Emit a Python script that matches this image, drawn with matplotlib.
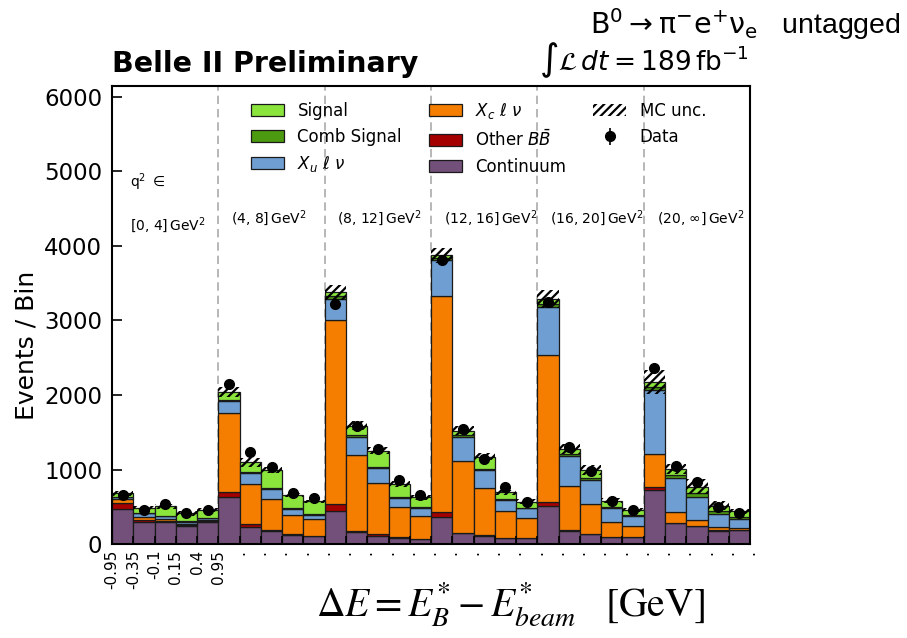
import numpy as np
import matplotlib
matplotlib.use("Agg")
import matplotlib.pyplot as plt

# delta E bin edges (shown only for the first q2 bin)
de_edges = ["-0.95", "-0.35", "-0.1", "0.15", "0.4", "0.95"]
q2_labels = [r"[0, 4]$\,$GeV$^2$", r"(4, 8]$\,$GeV$^2$", r"(8, 12]$\,$GeV$^2$",
             r"(12, 16]$\,$GeV$^2$", r"(16, 20]$\,$GeV$^2$", r"(20, $\infty$]$\,$GeV$^2$"]

# stacked components, 6 q2 bins x 5 delta E bins
continuum = [472, 293, 293, 244, 293,
             628, 235, 172, 123, 105,
             450, 159, 114, 83, 70,
             369, 145, 114, 78, 83,
             507, 172, 137, 91, 91,
             727, 284, 239, 181, 190]
other_bb = [81, 36, 22, 10, 12,
            67, 36, 23, 8, 5,
            90, 22, 23, 18, 6,
            58, 6, 5, 3, 3,
            54, 18, 5, 3, 3,
            35, 5, 3, 3, 2]
xc_lnu = [54, 31, 23, 17, 22,
          1061, 537, 412, 265, 228,
          2469, 1020, 684, 402, 307,
          2895, 970, 635, 369, 260,
          1969, 586, 398, 208, 145,
          449, 138, 87, 42, 25]
xu_lnu = [21, 54, 34, 31, 20,
          161, 148, 134, 76, 58,
          282, 242, 202, 117, 103,
          483, 322, 242, 143, 135,
          649, 412, 326, 184, 134,
          859, 462, 309, 179, 121]
comb_signal = [10, 10, 10, 10, 10,
               20, 10, 10, 10, 10,
               30, 15, 12, 10, 10,
               30, 15, 12, 10, 10,
               40, 20, 20, 15, 15,
               40, 44, 44, 35, 31]
signal = [44, 62, 125, 102, 102,
          101, 132, 245, 178, 168,
          59, 133, 220, 178, 132,
          37, 65, 166, 92, 79,
          63, 70, 110, 83, 71,
          62, 76, 90, 77, 71]
mc_unc = [30, 30, 30, 30, 30,
          70, 60, 40, 30, 25,
          100, 55, 45, 35, 30,
          100, 65, 45, 35, 30,
          120, 65, 70, 35, 30,
          160, 70, 100, 60, 35]
data = [660, 459, 540, 420, 462,
        2141, 1232, 1031, 682, 620,
        3215, 1591, 1278, 862, 664,
        3805, 1546, 1143, 772, 570,
        3246, 1299, 987, 584, 460,
        2365, 1054, 830, 503, 413]

components = [
    ("Continuum", continuum, "#735079"),
    (r"Other $B\bar{B}$", other_bb, "#a50000"),
    (r"$X_c\ \ell\ \nu$", xc_lnu, "#f57d00"),
    (r"$X_u\ \ell\ \nu$", xu_lnu, "#6f9fd2"),
    ("Comb Signal", comb_signal, "#4c9a10"),
    ("Signal", signal, "#8ae43c"),
]

n_bins = len(data)
x = np.arange(n_bins)
plt.rcParams["hatch.linewidth"] = 1.6

fig = plt.figure(figsize=(9.07, 6.38), dpi=100)
ax = fig.add_axes([0.1235, 0.147, 0.7035, 0.718])

bottom = np.zeros(n_bins)
patches = {}
for name, vals, col in components:
    vals = np.array(vals, dtype=float)
    bars = ax.bar(x, vals, bottom=bottom, width=1.0, align="edge", color=col,
                  edgecolor="#1a1a1a", linewidth=0.9, label=name)
    patches[name] = bars
    bottom += vals
total = bottom

unc = np.array(mc_unc, dtype=float)
unc_bars = ax.bar(x, 2 * unc, bottom=total - unc, width=1.0, align="edge",
                  fill=False, hatch="////", linewidth=0, edgecolor="black",
                  label="MC unc.")

d = np.array(data, dtype=float)
data_eb = ax.errorbar(x + 0.5, d, yerr=np.sqrt(d), fmt="o", color="black", ms=7,
                      elinewidth=1.2, capsize=0, zorder=5, label="Data")

# q2 bin separators and labels
for g in range(1, 6):
    ax.axvline(5 * g, color="#aaaaaa", ls=(0, (5, 3)), lw=1.2, zorder=0.5)
ax.text(0.85, 4850, r"q$^2$ $\in$", fontsize=10, va="center", ha="left")
ax.text(0.85, 4280, q2_labels[0], fontsize=10, va="center", ha="left")
for g in range(1, 6):
    ax.text(5 * g + 0.6, 4370, q2_labels[g], fontsize=10, va="center", ha="left")

ax.set_xlim(0, n_bins)
ax.set_ylim(0, 6140)
ax.set_xticks(np.arange(n_bins + 1))
ax.set_xticklabels(de_edges + ["."] * (n_bins + 1 - len(de_edges)), rotation=90,
                   fontsize=11)
ax.set_yticks(np.arange(0, 6001, 1000))
ax.tick_params(axis="y", direction="in", length=7, width=1.2, labelsize=16.5, pad=7)
ax.tick_params(axis="x", direction="in", length=6, width=1.2, pad=4)
for sp in ax.spines.values():
    sp.set_linewidth(1.5)

ax.set_ylabel("Events / Bin", fontsize=18)
ax.yaxis.set_label_coords(-0.115, 0.434)
plt.rcParams["mathtext.fontset"] = "stix"
fig.text(0.563, 0.052, r"$\Delta E = E^{*}_{B} - E^{*}_{beam}\quad$[GeV]",
         fontsize=28.5, ha="center", va="center", family="STIXGeneral")
plt.rcParams["mathtext.fontset"] = "dejavusans"

# legend, filled column by column
order = ["Signal", "Comb Signal", r"$X_u\ \ell\ \nu$", r"$X_c\ \ell\ \nu$",
         r"Other $B\bar{B}$", "Continuum"]
leg_handles = [patches[o] for o in order] + [unc_bars, data_eb]
leg_labels = order + ["MC unc.", "Data"]
ax.legend(leg_handles, leg_labels, ncol=3, loc="upper left",
          bbox_to_anchor=(0.194, 1.0), frameon=False, fontsize=12,
          handlelength=2.0, columnspacing=1.6, labelspacing=0.48)

fig.text(0.1235, 0.9, "Belle II Preliminary", fontsize=20.5, fontweight="bold",
         ha="left", va="center")
fig.text(0.826, 0.905, r"$\int\mathcal{L}\,dt = 189\,\mathrm{fb}^{-1}$",
         fontsize=19, ha="right", va="center")
fig.text(0.993, 0.962, r"$\mathrm{B^0 \rightarrow \pi^{-} e^{+} \nu_e}$   untagged",
         fontsize=20.5, ha="right", va="center", family="Liberation Sans")

fig.savefig("out.png", dpi=100)
